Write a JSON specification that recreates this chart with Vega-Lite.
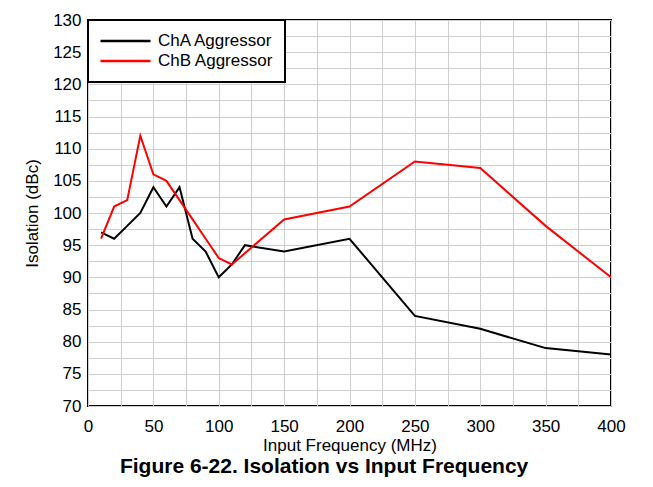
{
  "$schema": "https://vega.github.io/schema/vega-lite/v6.json",
  "width": 523,
  "height": 386,
  "autosize": "none",
  "padding": {"left": 88, "top": 20, "right": 42, "bottom": 81},
  "background": "white",
  "data": {
    "values": [
      {"series": "ChA Aggressor", "freq": 10, "iso": 97},
      {"series": "ChA Aggressor", "freq": 20, "iso": 96},
      {"series": "ChA Aggressor", "freq": 30, "iso": 98},
      {"series": "ChA Aggressor", "freq": 40, "iso": 100},
      {"series": "ChA Aggressor", "freq": 50, "iso": 104},
      {"series": "ChA Aggressor", "freq": 60, "iso": 101},
      {"series": "ChA Aggressor", "freq": 70, "iso": 104},
      {"series": "ChA Aggressor", "freq": 80, "iso": 96},
      {"series": "ChA Aggressor", "freq": 90, "iso": 94},
      {"series": "ChA Aggressor", "freq": 100, "iso": 90},
      {"series": "ChA Aggressor", "freq": 110, "iso": 92},
      {"series": "ChA Aggressor", "freq": 120, "iso": 95},
      {"series": "ChA Aggressor", "freq": 150, "iso": 94},
      {"series": "ChA Aggressor", "freq": 200, "iso": 96},
      {"series": "ChA Aggressor", "freq": 250, "iso": 84},
      {"series": "ChA Aggressor", "freq": 300, "iso": 82},
      {"series": "ChA Aggressor", "freq": 350, "iso": 79},
      {"series": "ChA Aggressor", "freq": 400, "iso": 78},
      {"series": "ChB Aggressor", "freq": 10, "iso": 96},
      {"series": "ChB Aggressor", "freq": 20, "iso": 101},
      {"series": "ChB Aggressor", "freq": 30, "iso": 102},
      {"series": "ChB Aggressor", "freq": 40, "iso": 112},
      {"series": "ChB Aggressor", "freq": 50, "iso": 106},
      {"series": "ChB Aggressor", "freq": 60, "iso": 105},
      {"series": "ChB Aggressor", "freq": 70, "iso": 102},
      {"series": "ChB Aggressor", "freq": 80, "iso": 99},
      {"series": "ChB Aggressor", "freq": 90, "iso": 96},
      {"series": "ChB Aggressor", "freq": 100, "iso": 93},
      {"series": "ChB Aggressor", "freq": 110, "iso": 92},
      {"series": "ChB Aggressor", "freq": 150, "iso": 99},
      {"series": "ChB Aggressor", "freq": 200, "iso": 101},
      {"series": "ChB Aggressor", "freq": 250, "iso": 108},
      {"series": "ChB Aggressor", "freq": 300, "iso": 107},
      {"series": "ChB Aggressor", "freq": 350, "iso": 98},
      {"series": "ChB Aggressor", "freq": 400, "iso": 90}
    ]
  },
  "title": {
    "text": "Figure 6-22. Isolation vs Input Frequency",
    "orient": "bottom",
    "anchor": "middle",
    "frame": "bounds",
    "font": "Liberation Sans",
    "fontSize": 21,
    "fontWeight": "bold",
    "color": "#000000",
    "offset": 3
  },
  "mark": {"type": "line", "strokeWidth": 2, "clip": true},
  "encoding": {
    "x": {
      "field": "freq",
      "type": "quantitative",
      "scale": {"domain": [0, 400], "nice": false},
      "axis": {
        "title": "Input Frequency (MHz)",
        "values": [0, 25, 50, 75, 100, 125, 150, 175, 200, 225, 250, 275, 300, 325, 350, 375, 400],
        "labelExpr": "datum.value % 50 == 0 ? datum.label : ''",
        "labelFlush": false,
        "labelPadding": 12,
        "titleY": 44,
        "titleBaseline": "alphabetic"
      }
    },
    "y": {
      "field": "iso",
      "type": "quantitative",
      "scale": {"domain": [70, 130], "nice": false, "zero": false},
      "axis": {
        "title": "Isolation (dBc)",
        "values": [70, 72.5, 75, 77.5, 80, 82.5, 85, 87.5, 90, 92.5, 95, 97.5, 100, 102.5, 105, 107.5, 110, 112.5, 115, 117.5, 120, 122.5, 125, 127.5, 130],
        "labelExpr": "datum.value % 5 == 0 ? datum.label : ''",
        "labelFlush": false,
        "labelPadding": 7,
        "titleX": -51,
        "titleY": 193,
        "titleBaseline": "alphabetic"
      }
    },
    "color": {
      "field": "series",
      "type": "nominal",
      "scale": {"domain": ["ChA Aggressor", "ChB Aggressor"], "range": ["#000000", "#ff0000"]},
      "legend": {
        "title": null,
        "orient": "top-left",
        "offset": 0,
        "padding": 11,
        "fillColor": "white",
        "strokeColor": "#000000",
        "symbolType": "stroke",
        "symbolSize": 2500,
        "symbolStrokeWidth": 2.5,
        "clipHeight": 20,
        "rowPadding": 0,
        "labelOffset": 6,
        "labelFont": "Liberation Sans",
        "labelFontSize": 17,
        "labelColor": "#000000"
      }
    },
    "order": {"field": "freq", "type": "quantitative"}
  },
  "config": {
    "view": {"stroke": "#000000", "strokeWidth": 2},
    "axis": {
      "grid": true,
      "gridColor": "#cfcfcf",
      "gridWidth": 1,
      "domain": false,
      "ticks": false,
      "tickSize": 0,
      "labelOverlap": false,
      "labelFont": "Liberation Sans",
      "labelFontSize": 17,
      "labelColor": "#000000",
      "titleFont": "Liberation Sans",
      "titleFontSize": 17,
      "titleFontWeight": "normal",
      "titleColor": "#000000"
    },
    "legend": {"strokeWidth": 2}
  }
}
